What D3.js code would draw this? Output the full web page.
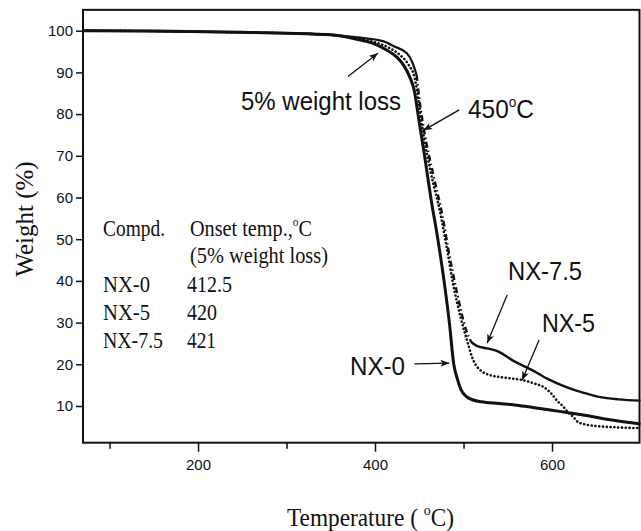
<!DOCTYPE html>
<html>
<head>
<meta charset="utf-8">
<script src="https://cdn.jsdelivr.net/npm/d3@7"></script>
<style>
  html, body { margin: 0; background: #fff; }
  svg { display: block; }
</style>
</head>
<body>
<main></main>
<script>
// TGA curves: temperature (C) and remaining weight (%).
const temps0 = [70, 150, 250, 300, 350, 382, 397, 412, 425, 433, 440, 444, 450, 456, 463, 471, 478, 484, 489, 493, 497, 503, 510, 520, 540, 560, 580, 600, 615, 630, 645, 660, 675, 690, 700];
const weight0 = [100, 99.9, 99.6, 99.4, 99.0, 97.8, 97.0, 95.5, 93.6, 91.5, 88.5, 86.0, 78, 70, 60, 50, 40, 30, 20, 16.5, 14, 12.3, 11.5, 11.0, 10.6, 10.2, 9.6, 9.0, 8.5, 8.0, 7.5, 6.9, 6.4, 6.0, 5.7];

const temps5 = [70, 150, 250, 300, 350, 385, 400, 415, 428, 438, 445, 449, 454, 463, 474, 481, 488, 497, 505, 509.5, 514, 519, 530, 550, 567, 580, 590, 600, 606, 613, 618, 624, 629, 637, 650, 670, 700];
const weight5 = [100, 99.9, 99.6, 99.4, 99.0, 97.9, 97.2, 96.0, 94.2, 91.8, 88.5, 83.5, 76, 66, 56, 48, 39.5, 31, 25, 21.8, 19.8, 18.6, 17.4, 16.7, 16.2, 15.4, 14.6, 12.8, 11.2, 9.8, 8.5, 7.4, 6.2, 5.6, 5.2, 4.9, 4.7];

const temps75 = [70, 150, 250, 300, 350, 380, 409, 422, 436, 442, 447, 451, 456, 465.5, 476.4, 483, 492, 503, 508.4, 515, 527, 540, 555, 577.5, 595, 615.5, 635, 653, 675, 700];
const weight75 = [100, 99.9, 99.6, 99.4, 99.0, 98.4, 97.5, 96.2, 94.6, 92.5, 89.4, 82.2, 75.4, 65.8, 55.4, 47.4, 37.8, 28.2, 25.4, 24.4, 23.8, 23.0, 21.0, 18.6, 16.5, 14.6, 13.2, 12.2, 11.6, 11.3];

// NX-7.5 is drawn dash-dot over its steep drop, solid elsewhere.
const steep75 = [447, 508.4];

const yTicks = [10, 20, 30, 40, 50, 60, 70, 80, 90, 100];
const xTicks = [100, 200, 300, 400, 500, 600];
const xLabels = [200, 400, 600];

const compounds = ["NX-0", "NX-5", "NX-7.5"];
const onsets = ["412.5", "420", "421"];

const width = 641, height = 531;
const x = d3.scaleLinear().domain([70, 700]).range([83, 640.5]);
const y = d3.scaleLinear().domain([0, 100]).range([447.7, 30.7]);
const yMin = 1.2, yMax = 105;

const SANS = "'Liberation Sans', Arial, sans-serif";
const SERIF = "'Liberation Serif', 'Times New Roman', serif";

const svg = d3.create("svg")
  .attr("width", width)
  .attr("height", height)
  .attr("viewBox", [0, 0, width, height]);

svg.append("defs")
  .append("marker")
  .attr("id", "arrow")
  .attr("markerUnits", "userSpaceOnUse")
  .attr("viewBox", "0 0 10 8")
  .attr("refX", 10)
  .attr("refY", 4)
  .attr("markerWidth", 9)
  .attr("markerHeight", 7)
  .attr("orient", "auto")
  .append("path")
  .attr("d", "M0,0 L10,4 L0,8 L2.5,4 Z")
  .attr("fill", "#111");

// Frame
svg.append("rect")
  .attr("x", x(70))
  .attr("y", y(yMax))
  .attr("width", x(700) - x(70) - 1)
  .attr("height", y(yMin) - y(yMax))
  .attr("fill", "none")
  .attr("stroke", "#111")
  .attr("stroke-width", 2);

// Y axis
const yAxis = svg.append("g")
  .attr("transform", `translate(${x(70)},0)`)
  .call(d3.axisLeft(y).tickValues(yTicks).tickSize(7).tickPadding(3));
yAxis.select(".domain").remove();
yAxis.selectAll("line").attr("stroke", "#111").attr("stroke-width", 1.5);
yAxis.selectAll("text")
  .attr("font-family", SANS)
  .attr("font-size", 15)
  .attr("fill", "#111");

// X axis
const xAxis = svg.append("g")
  .attr("transform", `translate(0,${y(yMin)})`)
  .call(d3.axisBottom(x).tickValues(xTicks).tickSize(9).tickPadding(8)
    .tickFormat((d) => (xLabels.includes(d) ? d : "")));
xAxis.select(".domain").remove();
xAxis.selectAll("line")
  .attr("stroke", "#111")
  .attr("stroke-width", 1.5)
  .attr("y2", (d) => (xLabels.includes(d) ? 9 : 6));
xAxis.selectAll("text")
  .attr("font-family", SANS)
  .attr("font-size", 15)
  .attr("fill", "#111");

// Axis titles
svg.append("text")
  .attr("transform", `translate(33,${219}) rotate(-90)`)
  .attr("text-anchor", "middle")
  .attr("font-family", SERIF)
  .attr("font-size", 25)
  .attr("fill", "#111")
  .text("Weight (%)");

const xTitle = svg.append("text")
  .attr("x", 287)
  .attr("y", 526)
  .attr("font-family", SERIF)
  .attr("font-size", 25)
  .attr("fill", "#111")
  .attr("textLength", 167)
  .attr("lengthAdjust", "spacingAndGlyphs");
xTitle.append("tspan").text("Temperature ( ");
xTitle.append("tspan").attr("font-size", 15).attr("dy", -11).text("o");
xTitle.append("tspan").attr("dy", 11).text("C)");

// Curves
const line = d3.line()
  .x((d) => x(d[0]))
  .y((d) => y(d[1]))
  .curve(d3.curveMonotoneX);

const plot = svg.append("g");
const pts0 = d3.zip(temps0, weight0);
const pts5 = d3.zip(temps5, weight5);
const pts75 = d3.zip(temps75, weight75);

plot.append("path")
  .attr("d", line(pts5))
  .attr("fill", "none")
  .attr("stroke", "#111")
  .attr("stroke-width", 2.6)
  .attr("stroke-linecap", "round")
  .attr("stroke-dasharray", "0.1,3.7");

plot.append("path")
  .attr("d", line(pts75.filter((d) => d[0] <= steep75[0])))
  .attr("fill", "none")
  .attr("stroke", "#111")
  .attr("stroke-width", 2.2);
plot.append("path")
  .attr("d", line(pts75.filter((d) => d[0] >= steep75[0] && d[0] <= steep75[1])))
  .attr("fill", "none")
  .attr("stroke", "#111")
  .attr("stroke-width", 2.4)
  .attr("stroke-dasharray", "6,3,1.5,3");
plot.append("path")
  .attr("d", line(pts75.filter((d) => d[0] >= steep75[1])))
  .attr("fill", "none")
  .attr("stroke", "#111")
  .attr("stroke-width", 2.4);

plot.append("path")
  .attr("d", line(pts0))
  .attr("fill", "none")
  .attr("stroke", "#111")
  .attr("stroke-width", 3);

// Annotations: label text and arrow from tail to head (data units).
const notes = [
  { text: "5% weight loss", tx: 241, ty: 110, w: 160, from: [369.4, 89.0], to: [403.2, 94.6] },
  { text: "450", sup: "o", after: "C", tx: 468, ty: 117.5, w: 66, from: [495.2, 81.0], to: [454.7, 76.1] },
  { text: "NX-7.5", tx: 508, ty: 279.5, w: 74, from: [549.3, 36.6], to: [526.8, 25.1] },
  { text: "NX-5", tx: 542, ty: 331.5, w: 53, from: [585.4, 25.8], to: [566.2, 16.2] },
  { text: "NX-0", tx: 350, ty: 375, w: 55, from: [444.5, 20.1], to: [483.9, 20.3] }
];

const ann = svg.append("g");
notes.forEach((n) => {
  const t = ann.append("text")
    .attr("x", n.tx)
    .attr("y", n.ty)
    .attr("font-family", SANS)
    .attr("font-size", 25)
    .attr("fill", "#111")
    .attr("textLength", n.w)
    .attr("lengthAdjust", "spacingAndGlyphs");
  t.append("tspan").text(n.text);
  if (n.sup) {
    t.append("tspan").attr("font-size", 14).attr("dy", -11).text(n.sup);
    t.append("tspan").attr("dy", 11).text(n.after);
  }
  ann.append("line")
    .attr("x1", x(n.from[0]))
    .attr("y1", y(n.from[1]))
    .attr("x2", x(n.to[0]))
    .attr("y2", y(n.to[1]))
    .attr("stroke", "#111")
    .attr("stroke-width", 1.3)
    .attr("marker-end", "url(#arrow)");
});

// Onset table
const table = svg.append("g")
  .attr("font-family", SERIF)
  .attr("font-size", 23)
  .attr("fill", "#111");

function cell(str, tx, ty, w) {
  return table.append("text")
    .attr("x", tx)
    .attr("y", ty)
    .attr("textLength", w)
    .attr("lengthAdjust", "spacingAndGlyphs")
    .text(str);
}

cell("Compd.", 103, 236, 62);
const head = table.append("text")
  .attr("x", 190)
  .attr("y", 236)
  .attr("textLength", 122)
  .attr("lengthAdjust", "spacingAndGlyphs");
head.append("tspan").text("Onset temp.,");
head.append("tspan").attr("font-size", 13).attr("dy", -10).text("o");
head.append("tspan").attr("dy", 10).text("C");
cell("(5% weight loss)", 190, 262.5, 138);

const nameW = [47, 47, 60];
const valW = [45, 30, 29];
compounds.forEach((c, i) => {
  const ty = 291.5 + i * 28;
  cell(c, 103, ty, nameW[i]);
  cell(onsets[i], 187, ty, valW[i]);
});

document.querySelector("main").append(svg.node());
</script>
</body>
</html>
